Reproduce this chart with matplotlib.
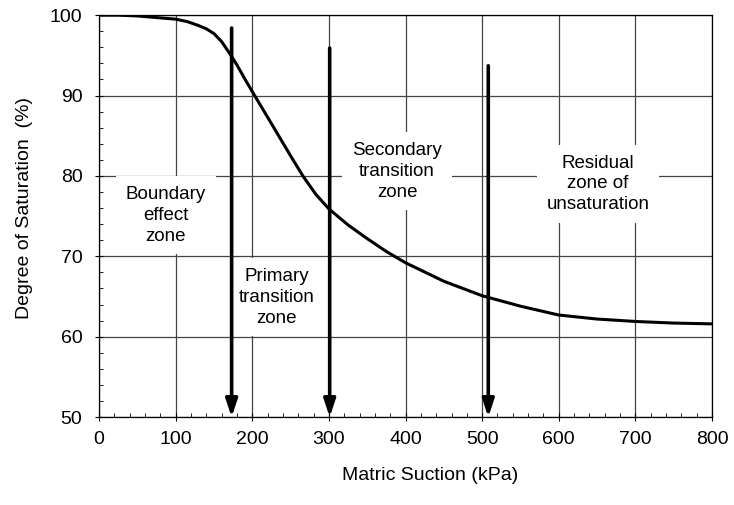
import numpy as np
import matplotlib
matplotlib.use("Agg")
import matplotlib.pyplot as plt
from matplotlib.ticker import MultipleLocator

plt.rcParams['font.family'] = ['Liberation Sans', 'DejaVu Sans']

# ---------------------------------------------------------
# data
# ---------------------------------------------------------
suction = [0, 25, 50, 75, 100, 115, 130, 140, 150, 160, 170, 180, 190, 203,
           220, 235, 250, 266, 283, 300, 325, 350, 375, 400, 450, 500, 550,
           600, 650, 700, 750, 800]
saturation = [100, 100, 99.9, 99.7, 99.5, 99.2, 98.7, 98.3, 97.7, 96.7, 95.3,
              93.8, 92.1, 90.0, 87.3, 84.9, 82.5, 80.0, 77.7, 75.9, 73.9,
              72.2, 70.6, 69.2, 66.9, 65.1, 63.8, 62.7, 62.2, 61.9, 61.7,
              61.6]

arrow_x = [173, 301, 508]
arrow_top = [98.4, 95.9, 93.7]

zone_names = ["Boundary\neffect\nzone",
              "Primary\ntransition\nzone",
              "Secondary\ntransition\nzone",
              "Residual\nzone of\nunsaturation"]
zone_x = [87, 232, 389, 651]
zone_y = [75.1, 64.9, 80.6, 79.0]

# ---------------------------------------------------------
# figure
# ---------------------------------------------------------
fig = plt.figure(figsize=(7.34, 5.05), dpi=100)
ax = fig.add_axes([0.135, 0.174, 0.835, 0.796])

ax.set_xlim(0, 800)
ax.set_ylim(50, 100)
ax.xaxis.set_major_locator(MultipleLocator(100))
ax.xaxis.set_minor_locator(MultipleLocator(20))
ax.yaxis.set_major_locator(MultipleLocator(10))
ax.yaxis.set_minor_locator(MultipleLocator(2))
ax.tick_params(which='major', direction='inout', length=6, width=0.8,
               labelsize=14, pad=7)
ax.tick_params(axis='y', which='major', pad=9)
ax.tick_params(which='minor', direction='in', length=3, width=0.6)
ax.grid(True, which='major', color='#444444', linewidth=0.9)
for s in ax.spines.values():
    s.set_linewidth(0.9)

ax.plot(suction, saturation, color='black', linewidth=2.2, zorder=4)

for x, top in zip(arrow_x, arrow_top):
    ax.annotate("", xy=(x, 50), xytext=(x, top),
                arrowprops=dict(arrowstyle='-|>,head_length=0.75,head_width=0.25',
                                color='black', lw=2.6,
                                mutation_scale=14, shrinkA=0, shrinkB=0),
                zorder=5)

for name, x, y in zip(zone_names, zone_x, zone_y):
    ax.text(x, y, name, ha='center', va='center', fontsize=13.5,
            linespacing=1.3, zorder=3,
            bbox=dict(facecolor='white', edgecolor='none', pad=7))

ax.set_xlabel("Matric Suction (kPa)", fontsize=14, labelpad=14, x=0.54)
ax.set_ylabel("Degree of Saturation  (%)", fontsize=14, labelpad=12, y=0.52)

fig.savefig("out.png", dpi=100)
